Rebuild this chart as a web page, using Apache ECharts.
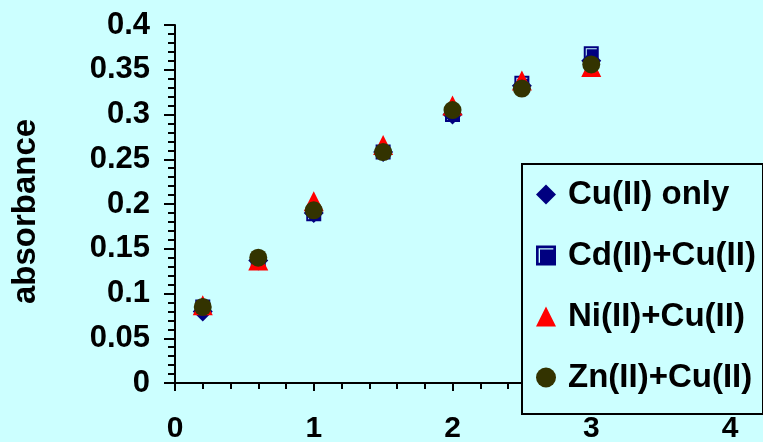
<!DOCTYPE html>
<html>
<head>
<meta charset="utf-8">
<script src="https://cdn.jsdelivr.net/npm/echarts@6/dist/echarts.min.js"></script>
<style>html,body{margin:0;padding:0;background:#CCFFFF;}#c{width:763px;height:442px;}</style>
</head>
<body>
<div id="c"></div>
<script>
var xValues = [0.2, 0.6, 1.0, 1.5, 2.0, 2.5, 3.0];
var cuOnly = [0.080, 0.137, 0.190, 0.258, 0.300, 0.332, 0.360];
var cdCu   = [0.085, 0.135, 0.189, 0.258, 0.300, 0.335, 0.368];
var niCu   = [0.087, 0.137, 0.203, 0.266, 0.310, 0.338, 0.353];
var znCu   = [0.085, 0.140, 0.193, 0.258, 0.305, 0.329, 0.356];
var seriesNames = ['Cu(II) only', 'Cd(II)+Cu(II)', 'Ni(II)+Cu(II)', 'Zn(II)+Cu(II)'];
var yAxisTitle = 'absorbance';

function pairs(ys) { return xValues.map(function (x, i) { return [x, ys[i]]; }); }
var FONT = '"Liberation Sans", Arial, sans-serif';
var squarePath = 'path://M0,0L15,0L15,15L0,15Z M2,2L2,13L3,13L3,3L13,3L13,2Z';

var chart = echarts.init(document.getElementById('c'), null, {renderer: 'canvas'});
chart.setOption({
  backgroundColor: '#CCFFFF',
  animation: false,
  grid: {left: 175, top: 25, right: 33, bottom: 59, containLabel: false, outerBoundsMode: 'none'},
  xAxis: {
    type: 'value', min: 0, max: 4, interval: 1,
    axisLine: {onZero: false, lineStyle: {color: '#000', width: 2}},
    axisTick: {show: true, length: 8, lineStyle: {color: '#000', width: 2}},
    minorTick: {show: true, splitNumber: 5, length: 6, lineStyle: {color: '#000', width: 2}},
    splitLine: {show: false},
    axisLabel: {color: '#000', fontSize: 30, fontWeight: 'bold', fontFamily: FONT, margin: 31}
  },
  yAxis: {
    type: 'value', min: 0, max: 0.4, interval: 0.05,
    name: yAxisTitle, nameLocation: 'middle', nameGap: 133, nameRotate: 90,
    nameTextStyle: {color: '#000', fontSize: 33, fontWeight: 'bold', fontFamily: FONT, padding: [0, 15, 0, 0]},
    axisLine: {show: true, lineStyle: {color: '#000', width: 2}},
    axisTick: {show: true, length: 11, lineStyle: {color: '#000', width: 2}},
    minorTick: {show: true, splitNumber: 5, length: 7, lineStyle: {color: '#000', width: 2}},
    splitLine: {show: false},
    axisLabel: {color: '#000', fontSize: 31, fontWeight: 'bold', fontFamily: FONT, margin: 25}
  },
  graphic: [{
    type: 'rect', z: 10, left: 521, top: 163,
    shape: {width: 241, height: 250},
    style: {fill: '#CCFFFF', stroke: '#000', lineWidth: 2}
  }],
  legend: {
    z: 20, orient: 'vertical', left: 536, top: 178, padding: 0,
    itemWidth: 20, itemHeight: 20, itemGap: 28,
    textStyle: {color: '#000', fontSize: 33, fontWeight: 'bold', fontFamily: FONT, padding: [0, 0, 0, 7]},
    data: seriesNames
  },
  series: [
    {name: seriesNames[0], type: 'scatter', symbol: 'diamond', symbolSize: 20, itemStyle: {color: '#000080', opacity: 1}, data: pairs(cuOnly)},
    {name: seriesNames[1], type: 'scatter', symbol: squarePath, symbolSize: 15, itemStyle: {color: '#000080', opacity: 1}, data: pairs(cdCu)},
    {name: seriesNames[2], type: 'scatter', symbol: 'triangle', symbolSize: 20, itemStyle: {color: '#FF0000', opacity: 1}, data: pairs(niCu)},
    {name: seriesNames[3], type: 'scatter', symbol: 'circle', symbolSize: 18, itemStyle: {color: '#333300', opacity: 1}, data: pairs(znCu)}
  ]
});
</script>
</body>
</html>
